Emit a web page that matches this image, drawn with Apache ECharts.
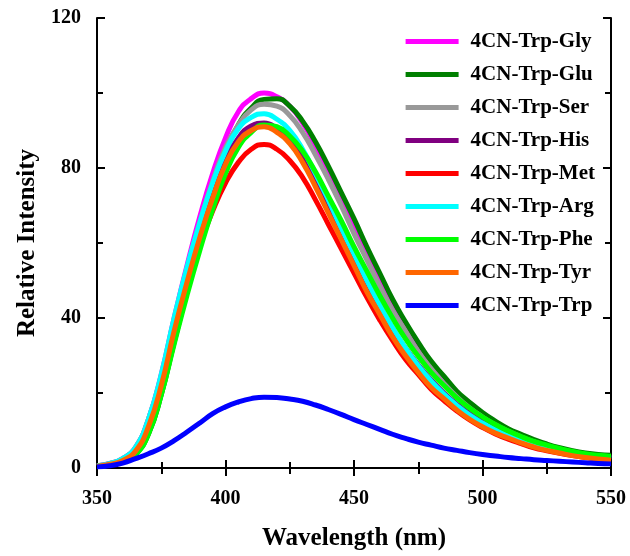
<!DOCTYPE html>
<html lang="en">
<head>
    <meta charset="UTF-8">
    <title>4CN-Trp emission</title>
    <script src="https://cdn.jsdelivr.net/npm/echarts@6/dist/echarts.min.js"></script>
    <style>
        html, body { margin: 0; padding: 0; background: #fff; }
        #chart { width: 630px; height: 556px; }
    </style>
</head>
<body>
<div id="chart"></div>
<script type="text/javascript">
    // wavelength grid, 5 nm steps
    var wavelengths = [];
    for (var w = 350; w <= 550; w += 5) wavelengths.push(w);

    var names = ['4CN-Trp-Gly', '4CN-Trp-Glu', '4CN-Trp-Ser', '4CN-Trp-His', '4CN-Trp-Met',
        '4CN-Trp-Arg', '4CN-Trp-Phe', '4CN-Trp-Tyr', '4CN-Trp-Trp'];
    var colors = ['#ff00ff', '#007f00', '#999999', '#800080', '#ff0000',
        '#00ffff', '#00ff00', '#ff6600', '#0000ff'];

    var gly = [0.6, 1.2, 2.5, 5.5, 13, 25, 40, 54, 67, 78.5, 88, 95, 98.5, 100, 99, 96.5, 92, 86, 79, 72, 64.5,
        57, 50, 43.5, 37.5, 32, 27.5, 23, 19.5, 16.5, 14, 11.8, 10, 8.5, 7.2, 6, 5, 4.2, 3.5, 3.1, 2.8];
    var glu = [0.4, 0.8, 1.6, 3.6, 9, 19.5, 33.5, 47, 61, 73, 84, 91.5, 96, 98.3, 98.5, 96.5, 92.5, 87, 80.5, 73.5, 66.5,
        59, 52, 45, 39, 33.5, 28.5, 24.5, 20.5, 17.5, 14.8, 12.5, 10.5, 9, 7.6, 6.4, 5.4, 4.6, 4, 3.6, 3.4];
    var ser = [0.6, 1.2, 2.5, 5.5, 13, 24.5, 39.5, 53, 65.5, 76.5, 85.5, 91.5, 95.5, 97, 96.5, 94, 89.5, 83.5, 77, 70, 62.5,
        55.5, 48.5, 42, 36.5, 31, 26.5, 22.5, 19, 16, 13.6, 11.5, 9.8, 8.3, 7, 5.9, 5, 4.2, 3.6, 3.1, 2.7];
    var his = [0.6, 1.1, 2.2, 5, 12, 23.5, 38, 51, 63, 73.5, 82, 88, 91.2, 92, 90.5, 87.5, 83, 77, 70.5, 63.5, 56.5,
        49.5, 43, 37, 32, 27.5, 23.5, 20, 17, 14.5, 12.3, 10.4, 8.9, 7.5, 6.4, 5.4, 4.6, 3.9, 3.4, 2.9, 2.6];
    var met = [0.5, 1, 2, 4.5, 11, 22, 36, 48.5, 59.5, 68.5, 76, 81.5, 85, 86.3, 85, 82, 77.5, 71.5, 65, 58.5, 52,
        45.5, 39.5, 34, 29, 25, 21, 18, 15.2, 12.8, 10.8, 9.1, 7.7, 6.5, 5.4, 4.6, 3.9, 3.3, 2.8, 2.4, 2.1];
    var arg = [0.6, 1.2, 2.5, 5.5, 13, 25, 40, 53.5, 65.5, 76, 84.5, 90.5, 93.5, 94.5, 93, 90, 85, 78.5, 71.5, 64, 57,
        50, 43.5, 37.5, 32, 27.3, 23.2, 19.7, 16.7, 14.1, 12, 10.2, 8.6, 7.3, 6.1, 5.2, 4.4, 3.7, 3.2, 2.8, 2.4];
    var phe = [0.4, 0.8, 1.6, 3.5, 9, 19.5, 33, 46, 58, 69, 78.5, 85.5, 89.5, 91.5, 91, 88.5, 84.5, 79, 72.5, 66, 59,
        52.5, 46, 40, 34.5, 29.8, 25.5, 22, 18.7, 16, 13.6, 11.6, 9.9, 8.4, 7.1, 6.1, 5.2, 4.4, 3.8, 3.4, 3.1];
    var tyr = [0.5, 1, 2, 4.5, 11, 22, 36.5, 49.5, 61.5, 72, 81, 87, 90, 91, 89.5, 86.5, 81.5, 75, 68, 61, 54,
        47, 41, 35, 30, 25.5, 21.5, 18.5, 15.5, 13, 11, 9.3, 8, 6.7, 5.6, 4.7, 4, 3.3, 2.8, 2.4, 2.1];
    var trp = [0.3, 0.6, 1.3, 2.5, 3.8, 5.3, 7.3, 9.6, 12, 14.5, 16.3, 17.6, 18.5, 18.9, 18.8, 18.4, 17.8, 16.8, 15.6, 14.3, 12.9,
        11.6, 10.3, 9, 7.9, 6.9, 6.1, 5.3, 4.7, 4.1, 3.6, 3.2, 2.8, 2.5, 2.2, 2, 1.8, 1.6, 1.4, 1.2, 1.1];

    var allData = [gly, glu, ser, his, met, arg, phe, tyr, trp];

    var font = 'Liberation Serif';

    var series = [];
    for (var i = 0; i < names.length; i++) {
        series.push({
            name: names[i],
            type: 'line',
            smooth: true,
            symbol: 'none',
            lineStyle: { width: 5, color: colors[i] },
            itemStyle: { color: colors[i] },
            data: wavelengths.map(function (x, k) { return [x, allData[i][k]]; })
        });
    }

    function boxAxis(extra) {
        var ax = {
            type: 'value',
            axisLine: { show: true, lineStyle: { color: '#000', width: 2 } },
            axisTick: { show: true, inside: true, length: 8, lineStyle: { color: '#000', width: 2 } },
            minorTick: { show: true, splitNumber: 2, length: 6, lineStyle: { color: '#000', width: 2 } },
            splitLine: { show: false }
        };
        for (var k in extra) ax[k] = extra[k];
        return ax;
    }

    var myChart = echarts.init(document.getElementById('chart'));
    var option = {
        animation: false,
        backgroundColor: '#fff',
        grid: { left: 97, right: 19, top: 18, bottom: 82 },
        legend: {
            orient: 'vertical',
            right: 30,
            top: 26,
            icon: 'rect',
            itemWidth: 53,
            itemHeight: 5,
            itemGap: 12,
            data: names,
            textStyle: { fontFamily: font, fontWeight: 'bold', fontSize: 21, color: '#000', padding: [0, 0, 0, 7] }
        },
        xAxis: [boxAxis({
            min: 350, max: 550, interval: 50,
            name: 'Wavelength (nm)',
            nameLocation: 'middle',
            nameGap: 58,
            nameTextStyle: { fontFamily: font, fontWeight: 'bold', fontSize: 25, color: '#000' },
            axisLabel: { margin: 21, fontFamily: font, fontWeight: 'bold', fontSize: 20, color: '#000' }
        }), boxAxis({
            position: 'top',
            min: 350, max: 550, interval: 50,
            axisLabel: { show: false }
        })],
        yAxis: [boxAxis({
            min: 0, max: 120, interval: 40,
            name: 'Relative Intensity',
            nameLocation: 'middle',
            nameGap: 55,
            nameTextStyle: { fontFamily: font, fontWeight: 'bold', fontSize: 25, color: '#000' },
            axisLabel: { margin: 16, fontFamily: font, fontWeight: 'bold', fontSize: 20, color: '#000' }
        }), boxAxis({
            position: 'right',
            min: 0, max: 120, interval: 40,
            axisLabel: { show: false }
        })],
        series: series
    };
    myChart.setOption(option);
</script>
</body>
</html>
